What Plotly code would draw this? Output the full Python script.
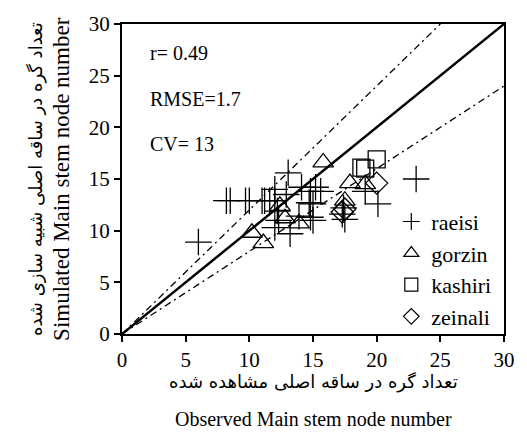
import plotly.graph_objects as go

# ---- data ----
raeisi_x = [6.0, 23.1, 20.1, 8.2, 8.5, 9.7, 10.0, 11.0, 11.2, 11.6, 12.0, 12.0, 12.2, 12.3, 12.0,
            13.05, 12.9, 14.1, 14.8, 15.2, 15.6, 14.7, 15.0, 14.8, 15.0, 13.2, 13.9, 17.3, 17.5, 17.4, 19.1]
raeisi_y = [8.9, 15.0, 12.6, 12.9, 12.9, 12.9, 12.9, 12.9, 12.9, 12.9, 12.9, 14.0, 11.9, 11.0, 10.3,
            15.6, 13.5, 14.2, 13.8, 14.2, 13.8, 12.7, 12.6, 11.3, 11.0, 9.7, 11.4, 11.6, 11.1, 12.2, 13.8]
gorzin_x = [15.8, 17.9, 17.5, 19.1, 13.9, 12.4, 10.2, 11.1, 12.8]
gorzin_y = [16.6, 14.6, 12.9, 14.5, 10.7, 12.4, 9.8, 8.8, 11.2]
kashiri_x = [18.8, 19.1, 20.0]
kashiri_y = [16.1, 16.0, 16.9]
zeinali_x = [20.0, 17.3, 17.5]
zeinali_y = [14.6, 11.8, 12.1]

one_to_one = [0, 30]
upper_slope = 1.2
lower_slope = 0.8

stats_lines = ["r= 0.49", "RMSE=1.7", "CV= 13"]
ticks = [0, 5, 10, 15, 20, 25, 30]

serif = "Liberation Serif"

fig = go.Figure()

# reference lines
fig.add_trace(go.Scatter(x=one_to_one, y=one_to_one, mode="lines",
                         line=dict(color="black", width=2.5), showlegend=False, hoverinfo="skip"))
fig.add_trace(go.Scatter(x=[0, 30 / upper_slope], y=[0, 30], mode="lines",
                         line=dict(color="black", width=1.3, dash="7px,4px,2px,4px"),
                         showlegend=False, hoverinfo="skip"))
fig.add_trace(go.Scatter(x=[0, 30], y=[0, 30 * lower_slope], mode="lines",
                         line=dict(color="black", width=1.3, dash="7px,4px,2px,4px"),
                         showlegend=False, hoverinfo="skip"))

series = [
    (raeisi_x, raeisi_y, "raeisi", "cross-thin-open", 19, 12),
    (gorzin_x, gorzin_y, "gorzin", "triangle-up-open", 18, 13),
    (kashiri_x, kashiri_y, "kashiri", "square-open", 17, 13),
    (zeinali_x, zeinali_y, "zeinali", "diamond-open", 17, 12),
]
for x, y, name, sym, size, lsize in series:
    fig.add_trace(go.Scatter(x=x, y=y, mode="markers", name=name, showlegend=False,
                             marker=dict(symbol=sym, size=size, color="black",
                                         line=dict(color="black", width=1.3))))
    # legend entry with smaller symbol, like the reference
    fig.add_trace(go.Scatter(x=[None], y=[None], mode="markers", name=name, showlegend=True,
                             marker=dict(symbol=sym, size=lsize, color="black",
                                         line=dict(color="black", width=1.2))))

axis_common = dict(range=[0, 30], tickvals=ticks, showgrid=False, zeroline=False,
                   showline=True, linecolor="black", linewidth=2, mirror=True,
                   ticks="outside", ticklen=6, tickwidth=1.5, tickcolor="black",
                   tickfont=dict(family=serif, size=21, color="black"))

fig.update_layout(
    width=527, height=435,
    margin=dict(l=122, r=15, t=23, b=101),
    plot_bgcolor="white", paper_bgcolor="white",
    xaxis=axis_common,
    yaxis=axis_common,
    showlegend=True,
    legend=dict(x=0.705, y=0.43, xanchor="left", yanchor="top",
                bgcolor="rgba(0,0,0,0)", font=dict(family=serif, size=22, color="black"),
                itemwidth=30),
)

for i, t in enumerate(stats_lines):
    fig.add_annotation(x=0.067, y=0.905 - i * 0.146, xref="paper", yref="paper",
                       text=t, showarrow=False, xanchor="left", yanchor="middle",
                       font=dict(family=serif, size=20, color="black"))

# axis titles
fig.add_annotation(x=0.5, y=-0.155, xref="paper", yref="paper",
                   text="تعداد گره در ساقه اصلی مشاهده شده", showarrow=False,
                   xanchor="center", yanchor="middle",
                   font=dict(family="DejaVu Sans", size=18, color="black"))
fig.add_annotation(x=0.5, y=-0.275, xref="paper", yref="paper",
                   text="Observed Main stem node number", showarrow=False,
                   xanchor="center", yanchor="middle",
                   font=dict(family=serif, size=20, color="black"))
fig.add_annotation(x=-0.225, y=0.5, xref="paper", yref="paper",
                   text="تعداد گره در ساقه اصلی شبیه سازی شده", showarrow=False,
                   textangle=-90, xanchor="center", yanchor="middle",
                   font=dict(family="DejaVu Sans", size=18, color="black"))
fig.add_annotation(x=-0.16, y=0.5, xref="paper", yref="paper",
                   text="Simulated Main stem node number", showarrow=False,
                   textangle=-90, xanchor="center", yanchor="middle",
                   font=dict(family=serif, size=23, color="black"))

fig.write_html("out.html")
